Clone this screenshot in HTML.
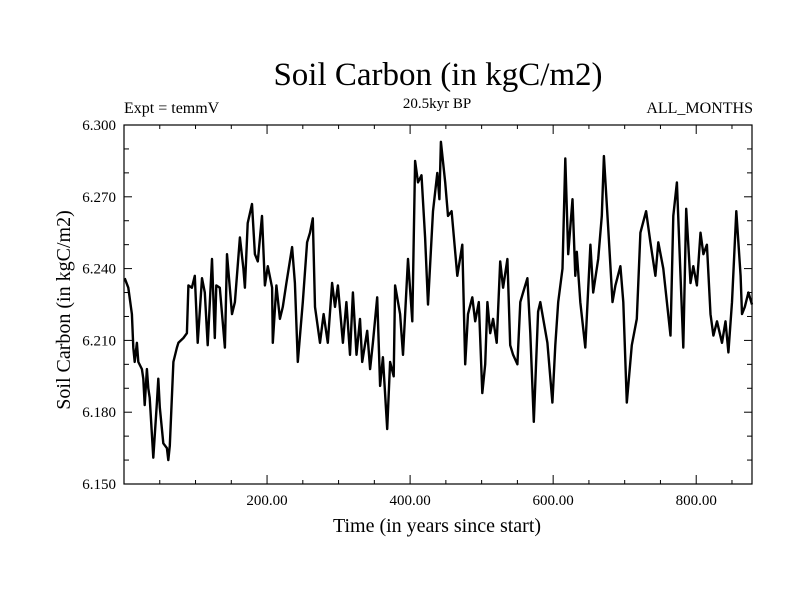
<!DOCTYPE html>
<html><head><meta charset="utf-8"><style>
body{margin:0;background:#fff}
svg{display:block;font-family:"Liberation Serif",serif}
</style></head><body>
<svg id="chart" width="800" height="600" viewBox="0 0 800 600">
<rect width="800" height="600" fill="#fff"/>
<text x="438" y="85" font-size="33" text-anchor="middle">Soil Carbon (in kgC/m2)</text>
<text x="124" y="113" font-size="16">Expt = temmV</text>
<text x="437" y="108" font-size="15" text-anchor="middle">20.5kyr BP</text>
<text x="753" y="113" font-size="16" text-anchor="end">ALL_MONTHS</text>
<text x="437" y="532" font-size="20" text-anchor="middle">Time (in years since start)</text>
<text transform="translate(70,310) rotate(-90)" font-size="20" text-anchor="middle">Soil Carbon (in kgC/m2)</text>
<g id="axes"></g>
<g id="plot"></g>
</svg>
<script>
const years=[1,6,11,13,15,18,20,25,27,29,32,34,36,41,46,48,50,55,60,62,64,69,74,76,83,88,90,95,99,103,109,113,117,123,127,129,134,141,144,151,155,162,167,169,173,179,183,187,193,197,201,207,208,213,218,222,227,235,239,243,250,256,260,264,267,274,279,285,291,295,299,306,311,316,320,325,330,333,340,344,348,354,358,362,368,372,377,379,386,390,397,403,407,411,416,421,425,432,438,441,443,449,453,458,466,473,477,481,487,491,496,501,505,508,512,516,521,526,530,536,540,544,550,554,558,564,568,573,579,582,592,599,603,607,613,617,621,627,631,633,638,645,652,656,663,668,671,677,683,687,694,698,703,710,717,722,730,736,743,747,754,764,768,773,782,786,792,796,801,806,810,815,820,824,829,836,841,845,850,856,862,864,868,873,878];
const carbon=[6.236,6.232,6.221,6.207,6.201,6.209,6.201,6.198,6.194,6.183,6.198,6.190,6.186,6.161,6.184,6.194,6.182,6.167,6.165,6.160,6.166,6.201,6.207,6.209,6.211,6.213,6.233,6.232,6.237,6.209,6.236,6.230,6.208,6.244,6.211,6.233,6.232,6.207,6.246,6.221,6.226,6.253,6.240,6.232,6.259,6.267,6.246,6.243,6.262,6.233,6.241,6.232,6.209,6.233,6.219,6.224,6.234,6.249,6.234,6.201,6.226,6.251,6.255,6.261,6.224,6.209,6.221,6.209,6.234,6.224,6.233,6.209,6.226,6.204,6.230,6.204,6.219,6.201,6.214,6.198,6.209,6.228,6.191,6.203,6.173,6.201,6.195,6.233,6.221,6.204,6.244,6.218,6.285,6.276,6.279,6.253,6.225,6.264,6.280,6.269,6.293,6.276,6.262,6.264,6.237,6.250,6.200,6.221,6.228,6.218,6.226,6.188,6.200,6.226,6.213,6.219,6.209,6.243,6.232,6.244,6.208,6.204,6.200,6.226,6.230,6.236,6.213,6.176,6.222,6.226,6.209,6.184,6.208,6.226,6.240,6.286,6.246,6.269,6.237,6.247,6.226,6.207,6.250,6.230,6.244,6.262,6.287,6.257,6.226,6.233,6.241,6.226,6.184,6.208,6.219,6.255,6.264,6.251,6.237,6.251,6.240,6.212,6.262,6.276,6.207,6.265,6.234,6.241,6.233,6.255,6.246,6.250,6.221,6.212,6.218,6.209,6.218,6.205,6.226,6.264,6.237,6.221,6.224,6.230,6.225];
const yTicks=[6.150,6.180,6.210,6.240,6.270,6.300];
const xTicks=[200,400,600,800];
const L=124,R=752,T=125,B=484,X0=0,X1=878,Y0=6.15,Y1=6.30;
const sx=v=>L+(v-X0)/(X1-X0)*(R-L);
const sy=v=>B-(v-Y0)/(Y1-Y0)*(B-T);
const NS='http://www.w3.org/2000/svg';
const axes=document.getElementById('axes'),plot=document.getElementById('plot');
function mk(tag,attrs,parent){const e=document.createElementNS(NS,tag);for(const k in attrs)e.setAttribute(k,attrs[k]);parent.appendChild(e);return e;}
const frame=mk('rect',{x:L,y:T,width:R-L,height:B-T,fill:'none',stroke:'#000','stroke-width':1.2},axes);


for(let v=50;v<X1;v+=50){const big=v%200===0;const len=big?9:4;const x=sx(v);
 mk('line',{x1:x,y1:B,x2:x,y2:B-len,stroke:'#000','stroke-width':1},axes);
 mk('line',{x1:x,y1:T,x2:x,y2:T+len,stroke:'#000','stroke-width':1},axes);}
for(let i=0;i<=15;i++){const v=Y0+i*0.01;const y=sy(v);const len=(i%3===0)?8:5;
 mk('line',{x1:L,y1:y,x2:L+len,y2:y,stroke:'#000','stroke-width':1},axes);
 mk('line',{x1:R,y1:y,x2:R-len,y2:y,stroke:'#000','stroke-width':1},axes);}
xTicks.forEach(v=>{const t=mk('text',{x:sx(v),y:505,'font-size':15,'text-anchor':'middle'},axes);t.textContent=v.toFixed(2);
 
 });
yTicks.forEach(v=>{const t=mk('text',{x:116,y:sy(v)+5,'font-size':15,'text-anchor':'end'},axes);t.textContent=v.toFixed(3);
 
 });
const pts=years.map((yr,i)=>sx(yr).toFixed(1)+','+sy(carbon[i]).toFixed(1)).join(' ');
const line=mk('polyline',{points:pts,fill:'none',stroke:'#000','stroke-width':2.4,'stroke-linejoin':'round'},plot);


</script>
</body></html>
